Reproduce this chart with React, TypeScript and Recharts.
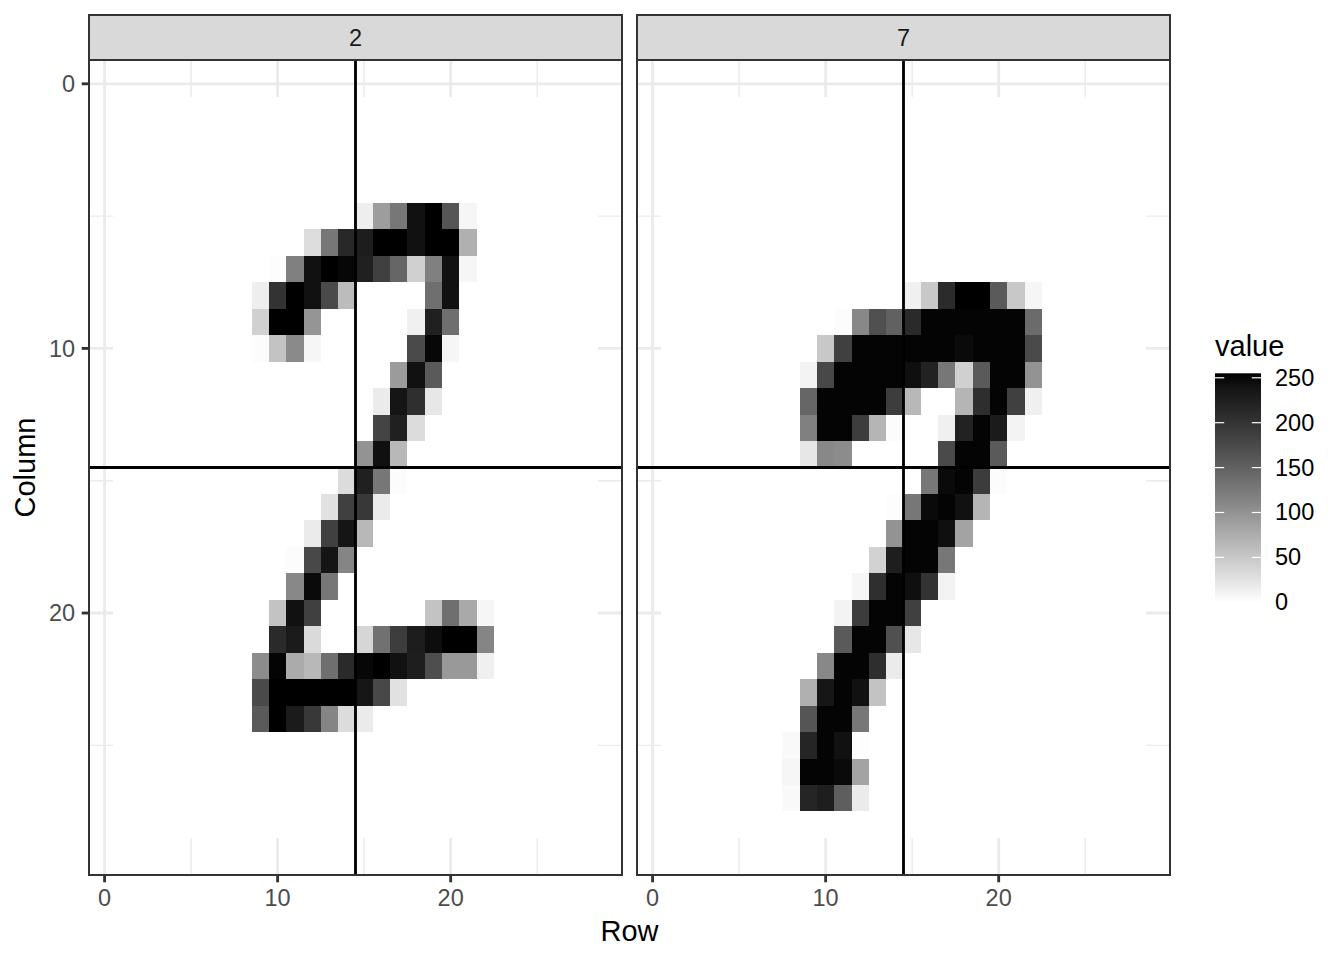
import React from 'react';
import { ScatterChart, Scatter, XAxis, YAxis, CartesianGrid, ReferenceLine } from 'recharts';

// ---------------- data ----------------
const IMAGE_SIZE = 28;
const VALUE_MAX = 255;
const AXIS_TICKS = [0, 10, 20];
const MINOR_TICKS = [5, 15, 25];
const CENTER_LINE = 14.5;
const LEGEND_TICKS = [0, 50, 100, 150, 200, 250];
const FACET_LABELS = ['2', '7'];

// each row: y = Column index, x0 = first Row index listed, v = pixel values from x0 onward
const digit2Rows = [
  { y: 5, x0: 15, v: [15, 90, 127, 242, 255, 163, 8] },
  { y: 6, x0: 12, v: [30, 127, 214, 228, 255, 255, 242, 255, 255, 72] },
  { y: 7, x0: 10, v: [2, 118, 242, 255, 250, 224, 186, 145, 42, 118, 242, 8] },
  { y: 8, x0: 9, v: [15, 201, 255, 242, 175, 61, 0, 0, 0, 0, 136, 242] },
  { y: 9, x0: 9, v: [42, 255, 255, 98, 0, 0, 0, 0, 0, 13, 224, 136] },
  { y: 10, x0: 9, v: [3, 54, 108, 8, 0, 0, 0, 0, 0, 175, 250, 8] },
  { y: 11, x0: 17, v: [92, 242, 158] },
  { y: 12, x0: 16, v: [18, 238, 205, 21] },
  { y: 13, x0: 16, v: [181, 224, 31] },
  { y: 14, x0: 15, v: [100, 243, 64] },
  { y: 15, x0: 14, v: [31, 224, 127, 3] },
  { y: 16, x0: 13, v: [27, 186, 195, 18] },
  { y: 17, x0: 12, v: [18, 186, 238, 64] },
  { y: 18, x0: 11, v: [3, 177, 238, 113] },
  { y: 19, x0: 11, v: [110, 248, 127] },
  { y: 20, x0: 10, v: [54, 242, 186, 0, 0, 0, 0, 0, 0, 54, 136, 78, 8] },
  { y: 21, x0: 10, v: [212, 230, 33, 0, 0, 37, 134, 189, 228, 246, 255, 255, 113] },
  { y: 22, x0: 9, v: [106, 252, 77, 64, 136, 212, 250, 255, 242, 226, 170, 94, 94, 13] },
  { y: 23, x0: 9, v: [175, 255, 255, 255, 255, 255, 236, 177, 27] },
  { y: 24, x0: 9, v: [157, 255, 230, 195, 113, 31, 18] },
];

const digit7Rows = [
  { y: 8, x0: 15, v: [13, 49, 210, 255, 255, 157, 49, 8] },
  { y: 9, x0: 11, v: [3, 110, 168, 150, 212, 252, 252, 252, 252, 252, 252, 140] },
  { y: 10, x0: 10, v: [49, 186, 252, 252, 252, 252, 252, 252, 248, 252, 252, 252, 175] },
  { y: 11, x0: 9, v: [11, 177, 252, 252, 252, 252, 244, 221, 127, 42, 157, 252, 252, 100] },
  { y: 12, x0: 9, v: [145, 252, 252, 252, 252, 189, 64, 0, 0, 67, 207, 252, 186, 13] },
  { y: 13, x0: 9, v: [118, 252, 252, 189, 67, 3, 0, 0, 13, 221, 252, 230, 11] },
  { y: 14, x0: 9, v: [21, 110, 106, 0, 0, 0, 0, 0, 175, 252, 252, 157] },
  { y: 15, x0: 16, v: [127, 248, 252, 191, 3] },
  { y: 16, x0: 14, v: [2, 127, 248, 252, 242, 67] },
  { y: 17, x0: 14, v: [100, 252, 252, 244, 84] },
  { y: 18, x0: 13, v: [40, 226, 252, 252, 127] },
  { y: 19, x0: 12, v: [8, 205, 252, 244, 201, 11] },
  { y: 20, x0: 11, v: [11, 191, 252, 252, 186] },
  { y: 21, x0: 11, v: [157, 252, 252, 168, 21] },
  { y: 22, x0: 10, v: [110, 252, 252, 207, 18] },
  { y: 23, x0: 9, v: [72, 236, 252, 242, 54] },
  { y: 24, x0: 9, v: [163, 252, 252, 127] },
  { y: 25, x0: 8, v: [5, 217, 252, 242, 2] },
  { y: 26, x0: 8, v: [8, 252, 252, 248, 84] },
  { y: 27, x0: 8, v: [5, 217, 226, 153, 18] },
];

// ---------------- helpers ----------------
type Cell = { x: number; y: number; value: number };

function toCells(rows: { y: number; x0: number; v: number[] }[]): Cell[] {
  const grid: number[] = new Array(IMAGE_SIZE * IMAGE_SIZE).fill(0);
  rows.forEach((r) => {
    r.v.forEach((val, k) => {
      grid[(r.y - 1) * IMAGE_SIZE + (r.x0 + k - 1)] = val;
    });
  });
  const cells: Cell[] = [];
  for (let yy = 1; yy <= IMAGE_SIZE; yy++) {
    for (let xx = 1; xx <= IMAGE_SIZE; xx++) {
      cells.push({ x: xx, y: yy, value: grid[(yy - 1) * IMAGE_SIZE + (xx - 1)] });
    }
  }
  return cells;
}

// white -> black interpolated in CIE Lab (like ggplot's scale_fill_gradient)
function grayFor(v: number): string {
  const t = Math.max(0, Math.min(1, v / VALUE_MAX));
  const L = 100 * (1 - t);
  const fy = (L + 16) / 116;
  const Y = fy * fy * fy > 0.008856 ? fy * fy * fy : L / 903.3;
  const c = Y <= 0.0031308 ? 12.92 * Y : 1.055 * Math.pow(Y, 1 / 2.4) - 0.055;
  const g = Math.round(Math.max(0, Math.min(1, c)) * 255);
  return `rgb(${g},${g},${g})`;
}

const LO = 0.5;
const HI = IMAGE_SIZE + 0.5;
const PAD = 0.05 * (HI - LO);
const DOMAIN: [number, number] = [LO - PAD, HI + PAD];

// ---------------- layout ----------------
const FONT = '"Liberation Sans", Arial, Helvetica, sans-serif';
const PANEL_TOP = 60;
const PANEL_H = 815;
const PANEL_W = 533;
const PANELS_X = [89, 637];
const STRIP_TOP = 15;
const STRIP_H = 45;
const CHART_H = 960;
const XAXIS_H = 40;
const TICK_LEN = 7.3;
const TICK_FONT = 23.5;
const LINE_W = 2.85;

const panelCells = [toCells(digit2Rows), toCells(digit7Rows)];

function makeTile(plotW: number, plotH: number) {
  const fallbackW = plotW / (DOMAIN[1] - DOMAIN[0]);
  const fallbackH = plotH / (DOMAIN[1] - DOMAIN[0]);
  return (props: any) => {
    const { cx, cy, payload, xAxis, yAxis } = props;
    let w = fallbackW;
    let h = fallbackH;
    if (xAxis && typeof xAxis.scale === 'function') {
      const a = xAxis.scale(payload.x - 0.5);
      const b = xAxis.scale(payload.x + 0.5);
      if (Number.isFinite(a) && Number.isFinite(b)) w = Math.abs(b - a);
    }
    if (yAxis && typeof yAxis.scale === 'function') {
      const a = yAxis.scale(payload.y - 0.5);
      const b = yAxis.scale(payload.y + 0.5);
      if (Number.isFinite(a) && Number.isFinite(b)) h = Math.abs(b - a);
    }
    return (
      <rect
        x={cx - w / 2}
        y={cy - h / 2}
        width={w}
        height={h}
        fill={grayFor(payload.value)}
        shapeRendering="crispEdges"
      />
    );
  };
}

function Panel({ index }: { index: number }) {
  const isFirst = index === 0;
  const yAxisW = isFirst ? 60 : 0;
  const left = isFirst ? 0 : 630;
  const width = isFirst ? 630 : 548;
  const marginLeft = PANELS_X[index] - left - yAxisW;
  const marginRight = width - (PANELS_X[index] - left) - PANEL_W;
  const marginBottom = CHART_H - PANEL_TOP - PANEL_H - XAXIS_H;
  const Tile = makeTile(PANEL_W, PANEL_H);
  return (
    <div style={{ position: 'absolute', left, top: 0 }}>
      <ScatterChart
        width={width}
        height={CHART_H}
        margin={{ top: PANEL_TOP, right: marginRight, bottom: marginBottom, left: marginLeft }}
      >
        <CartesianGrid
          stroke="#EBEBEB"
          strokeWidth={LINE_W / 2}
          verticalValues={MINOR_TICKS}
          horizontalValues={MINOR_TICKS}
        />
        <CartesianGrid
          stroke="#EBEBEB"
          strokeWidth={LINE_W}
          verticalValues={AXIS_TICKS}
          horizontalValues={AXIS_TICKS}
        />
        <XAxis
          type="number"
          dataKey="x"
          domain={DOMAIN}
          ticks={AXIS_TICKS}
          allowDataOverflow
          height={XAXIS_H}
          axisLine={false}
          tickSize={TICK_LEN}
          tickMargin={7}
          tickLine={{ stroke: '#333333', strokeWidth: LINE_W }}
          tick={{ fill: '#4D4D4D', fontSize: TICK_FONT, fontFamily: FONT }}
          interval={0}
        />
        <YAxis
          type="number"
          dataKey="y"
          domain={DOMAIN}
          ticks={AXIS_TICKS}
          reversed
          allowDataOverflow
          hide={!isFirst}
          width={yAxisW}
          axisLine={false}
          tickSize={TICK_LEN}
          tickMargin={6.5}
          tickLine={{ stroke: '#333333', strokeWidth: LINE_W }}
          tick={{ fill: '#4D4D4D', fontSize: TICK_FONT, fontFamily: FONT }}
          interval={0}
        />
        <Scatter data={panelCells[index]} isAnimationActive={false} shape={Tile} />
        <ReferenceLine x={CENTER_LINE} stroke="#000000" strokeWidth={LINE_W} zIndex={1000} ifOverflow="extendDomain" />
        <ReferenceLine y={CENTER_LINE} stroke="#000000" strokeWidth={LINE_W} zIndex={1000} ifOverflow="extendDomain" />
      </ScatterChart>
    </div>
  );
}

function Overlay() {
  const barX = 1215;
  const barTop = 373.3;
  const barH = 229;
  const barW = 46;
  const barBottom = barTop + barH;
  const stops = Array.from({ length: 18 }, (_, k) => k / 17);
  const yFor = (v: number) => barBottom - (v / VALUE_MAX) * barH;
  return (
    <svg
      width={1344}
      height={960}
      style={{ position: 'absolute', left: 0, top: 0, pointerEvents: 'none' }}
      fontFamily={FONT}
    >
      <defs>
        <linearGradient id="valueGrad" x1="0" y1="1" x2="0" y2="0">
          {stops.map((s) => (
            <stop key={s} offset={s} stopColor={grayFor(s * VALUE_MAX)} />
          ))}
        </linearGradient>
      </defs>
      {PANELS_X.map((px, i) => (
        <g key={i}>
          <rect x={px} y={PANEL_TOP} width={PANEL_W} height={PANEL_H} fill="none" stroke="#333333" strokeWidth={2} />
          <rect x={px} y={STRIP_TOP} width={PANEL_W} height={STRIP_H} fill="#D9D9D9" stroke="#333333" strokeWidth={2} />
          <text
            x={px + PANEL_W / 2}
            y={STRIP_TOP + STRIP_H / 2}
            textAnchor="middle"
            dominantBaseline="central"
            fontSize={TICK_FONT}
            fill="#1A1A1A"
          >
            {FACET_LABELS[i]}
          </text>
        </g>
      ))}
      <text x={(PANELS_X[0] + PANELS_X[1] + PANEL_W) / 2} y={941} textAnchor="middle" fontSize={29} fill="#000">
        Row
      </text>
      <text
        transform={`translate(35, ${PANEL_TOP + PANEL_H / 2}) rotate(-90)`}
        textAnchor="middle"
        fontSize={29}
        fill="#000"
      >
        Column
      </text>
      <text x={barX} y={356} fontSize={29} fill="#000">
        value
      </text>
      <rect x={barX} y={barTop} width={barW} height={barH} fill="url(#valueGrad)" />
      {LEGEND_TICKS.map((t) => (
        <g key={t}>
          <line x1={barX} x2={barX + barW / 5} y1={yFor(t)} y2={yFor(t)} stroke="#FFFFFF" strokeWidth={1.2} />
          <line x1={barX + barW - barW / 5} x2={barX + barW} y1={yFor(t)} y2={yFor(t)} stroke="#FFFFFF" strokeWidth={1.2} />
          <text x={1275} y={yFor(t)} dominantBaseline="central" fontSize={TICK_FONT} fill="#000">
            {t}
          </text>
        </g>
      ))}
    </svg>
  );
}

export default function App() {
  return (
    <div
      style={{
        position: 'absolute',
        left: 0,
        top: 0,
        width: 1344,
        height: 960,
        background: '#FFFFFF',
        fontFamily: FONT,
        overflow: 'hidden',
      }}
    >
      <Panel index={0} />
      <Panel index={1} />
      <Overlay />
    </div>
  );
}
